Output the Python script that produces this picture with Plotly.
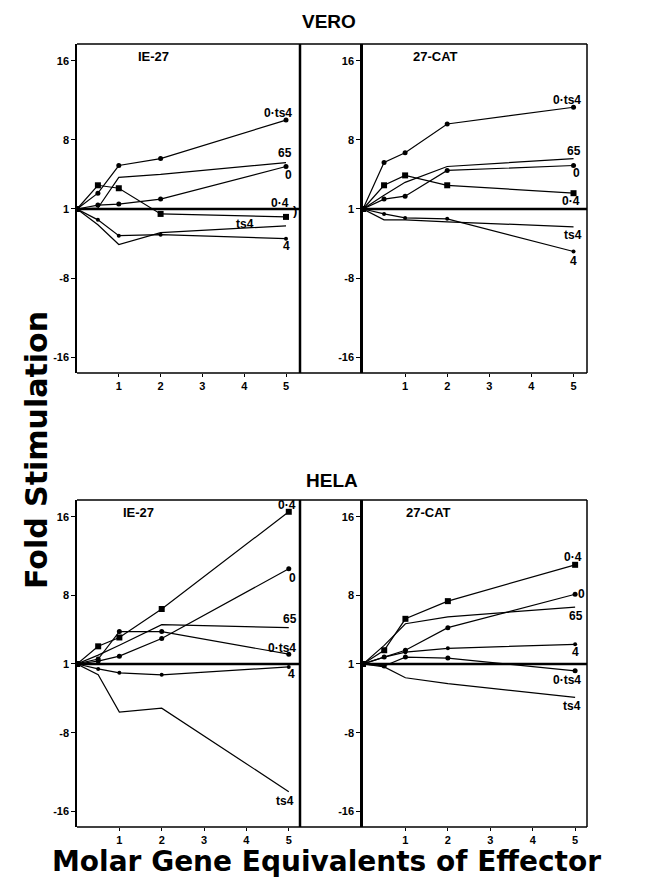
import plotly.graph_objects as go

# ---------------- data (fold stimulation values) ----------------
x_dose = [0, 0.5, 1, 2, 5]
series_names = ["0·ts4", "65", "0", "0·4", "ts4", "4"]

vero_ie27 = {
    "0·ts4": [1, 2.6, 5.4, 6.1, 10.0],
    "65":    [1, 1.1, 4.2, 4.5, 5.7],
    "0":     [1, 1.4, 1.5, 2.0, 5.3],
    "0·4":   [1, 3.4, 3.1, -1.5, -1.8],
    "ts4":   [1, -2.6, -4.6, -3.4, -2.7],
    "4":     [1, -2.1, -3.7, -3.6, -4.0],
}
vero_cat = {
    "0·ts4": [1, 5.7, 6.7, 9.6, 11.3],
    "65":    [1, 2.4, 3.7, 5.3, 6.1],
    "0":     [1, 2.0, 2.3, 4.9, 5.4],
    "0·4":   [1, 3.4, 4.4, 3.4, 2.6],
    "ts4":   [1, -2.1, -2.1, -2.3, -2.8],
    "4":     [1, -1.5, -1.9, -2.0, -5.3],
}
hela_ie27 = {
    "0·4":   [1, 2.8, 3.7, 6.6, 16.5],
    "0":     [1, 1.3, 1.8, 3.6, 10.7],
    "65":    [1, 1.9, 2.9, 5.0, 4.7],
    "0·ts4": [1, 1.5, 4.3, 4.3, 2.0],
    "4":     [1, -1.5, -1.9, -2.1, -1.3],
    "ts4":   [1, -2.1, -5.9, -5.5, -14.0],
}
hela_cat = {
    "0·4":   [1, 2.4, 5.6, 7.4, 11.1],
    "0":     [1, 1.7, 2.4, 4.7, 8.1],
    "65":    [1, 2.9, 5.1, 5.8, 6.8],
    "4":     [1, 1.7, 2.2, 2.6, 3.0],
    "0·ts4": [1, -1.2, 1.7, 1.6, -1.7],
    "ts4":   [1, -1.3, -2.4, -3.0, -4.4],
}

y_tick_folds = [16, 8, 1, -8, -16]
x_tick_vals = [1, 2, 3, 4, 5]

# label positions (x, fold) for the end-of-line labels
labels_vero_ie27 = [("0·ts4", 4.81, 10.7), ("65", 4.98, 6.7), ("0", 5.05, 4.4),
                    ("0·4", 4.86, 1.6), ("ts4", 4.02, -2.5), ("4", 5.0, -4.7)]
labels_vero_cat = [("0·ts4", 4.84, 12.0), ("65", 5.0, 6.9), ("0", 5.08, 4.6),
                   ("0·4", 4.94, 1.8), ("ts4", 4.99, -3.6), ("4", 4.99, -6.3)]
labels_hela_ie27 = [("0·4", 4.95, 17.2), ("0", 5.09, 9.8), ("65", 5.02, 5.55),
                    ("0·ts4", 4.83, 2.66), ("4", 5.07, -2.05), ("ts4", 4.9, -15.0)]
labels_hela_cat = [("0·4", 4.95, 11.9), ("0", 5.14, 8.15), ("65", 5.02, 5.9),
                   ("4", 5.0, 2.2), ("0·ts4", 4.8, -2.6), ("ts4", 4.92, -5.3)]


def to_axis(f):
    """Fold stimulation axis: 1 at centre, +n above, -n below."""
    return f - 1 if f >= 1 else f + 1


style = {
    "0·ts4": dict(mode="lines+markers", marker=dict(symbol="circle", size=5)),
    "65":    dict(mode="lines", marker=dict(size=1)),
    "0":     dict(mode="lines+markers", marker=dict(symbol="circle", size=5)),
    "0·4":   dict(mode="lines+markers", marker=dict(symbol="square", size=6)),
    "ts4":   dict(mode="lines", marker=dict(size=1)),
    "4":     dict(mode="lines+markers", marker=dict(symbol="circle", size=4)),
}

FONT = "Liberation Sans, Arial, Helvetica, sans-serif"
BIG = "DejaVu Sans, Liberation Sans, sans-serif"
W, H = 649, 879

fig = go.Figure()

panels = [
    ("x", "y", vero_ie27, labels_vero_ie27, "IE-27", 1.82),
    ("x2", "y2", vero_cat, labels_vero_cat, "27-CAT", 1.73),
    ("x3", "y3", hela_ie27, labels_hela_ie27, "IE-27", 1.46),
    ("x4", "y4", hela_cat, labels_hela_cat, "27-CAT", 1.55),
]

annotations = []
shapes = []
for xa, ya, data, labs, ptitle, tx in panels:
    for name in series_names:
        st = style[name]
        fig.add_trace(go.Scatter(
            x=x_dose, y=[to_axis(v) for v in data[name]],
            xaxis=xa, yaxis=ya, mode=st["mode"],
            line=dict(color="black", width=1.2),
            marker=dict(color="black", **st["marker"]),
            showlegend=False, hoverinfo="skip"))
    for text, lx, lf in labs:
        annotations.append(dict(x=lx, y=to_axis(lf), xref=xa, yref=ya, text="<b>" + text + "</b>",
                                showarrow=False, font=dict(family=FONT, size=12, color="black")))
    annotations.append(dict(x=tx, y=15.4, xref=xa, yref=ya, text="<b>" + ptitle + "</b>",
                            showarrow=False, font=dict(family=FONT, size=13, color="black")))
    # baseline at fold = 1
    shapes.append(dict(type="line", xref=xa + " domain", yref=ya, x0=0, x1=1, y0=0, y1=0,
                       line=dict(color="black", width=2.5)))

# bracket next to 0·4 in VERO IE-27
annotations.append(dict(x=5.22, y=-0.2, xref="x", yref="y", text="<b>)</b>", showarrow=False,
                        font=dict(family=FONT, size=13, color="black")))

# geometry (pixels -> paper)
def px_x(p):
    return p / W

def px_y(p):
    return 1 - p / H

left_dom = [px_x(77), px_x(300)]
right_dom = [px_x(363), px_x(587)]
top_dom = [px_y(373), px_y(44)]
bot_dom = [px_y(827), px_y(500)]
yrange = [-16.6, 16.7]

tick_font = dict(family=FONT, size=11, color="black")
yt = dict(range=yrange, tickvals=[to_axis(v) for v in y_tick_folds],
          ticktext=["<b>%d</b>" % v for v in y_tick_folds], ticks="outside", ticklen=4,
          tickwidth=1, tickcolor="black", showgrid=False, zeroline=False, tickfont=tick_font,
          showline=True, linecolor="black", fixedrange=True)
xt = dict(tickvals=x_tick_vals, ticktext=["<b>%d</b>" % v for v in x_tick_vals], ticks="outside",
          ticklen=3, tickwidth=1, tickcolor="black", showgrid=False, zeroline=False,
          tickfont=tick_font, showline=False, fixedrange=True)

fig.update_layout(
    width=W, height=H, margin=dict(l=0, r=0, t=0, b=0),
    paper_bgcolor="white", plot_bgcolor="white",
    xaxis=dict(domain=left_dom, range=[0, 5.335], anchor="y", **xt),
    yaxis=dict(domain=top_dom, anchor="x", linewidth=1.5, **yt),
    xaxis2=dict(domain=right_dom, range=[0, 5.32], anchor="y2", **xt),
    yaxis2=dict(domain=top_dom, anchor="x2", linewidth=2.5, **yt),
    xaxis3=dict(domain=left_dom, range=[0, 5.265], anchor="y3", **xt),
    yaxis3=dict(domain=bot_dom, anchor="x3", linewidth=1.5, **yt),
    xaxis4=dict(domain=right_dom, range=[0, 5.28], anchor="y4", **xt),
    yaxis4=dict(domain=bot_dom, anchor="x4", linewidth=2.5, **yt),
)

# frames: outer boxes, thick divider at right edge of left panels
for dom in (top_dom, bot_dom):
    shapes.append(dict(type="line", xref="paper", yref="paper", x0=px_x(77), x1=px_x(587),
                       y0=dom[1], y1=dom[1], line=dict(color="black", width=1.5)))
    shapes.append(dict(type="line", xref="paper", yref="paper", x0=px_x(77), x1=px_x(587),
                       y0=dom[0], y1=dom[0], line=dict(color="black", width=1.5)))
    shapes.append(dict(type="line", xref="paper", yref="paper", x0=px_x(300), x1=px_x(300),
                       y0=dom[0], y1=dom[1], line=dict(color="black", width=2.5)))
    shapes.append(dict(type="line", xref="paper", yref="paper", x0=px_x(587), x1=px_x(587),
                       y0=dom[0], y1=dom[1], line=dict(color="black", width=1.5)))

# titles
annotations += [
    dict(x=px_x(329), y=px_y(21), xref="paper", yref="paper", text="<b>VERO</b>", showarrow=False,
         xanchor="center", yanchor="middle", font=dict(family=FONT, size=19, color="black")),
    dict(x=px_x(332), y=px_y(480), xref="paper", yref="paper", text="<b>HELA</b>", showarrow=False,
         xanchor="center", yanchor="middle", font=dict(family=FONT, size=19, color="black")),
    dict(x=px_x(37), y=px_y(450), xref="paper", yref="paper", text="<b>Fold Stimulation</b>",
         showarrow=False, textangle=-90, xanchor="center", yanchor="middle",
         font=dict(family=BIG, size=30, color="black")),
    dict(x=px_x(326), y=0, xref="paper", yref="paper",
         text="<b>Molar Gene Equivalents of Effector</b>", showarrow=False,
         xanchor="center", yanchor="bottom", borderpad=0,
         font=dict(family=BIG, size=28, color="black")),
]

fig.update_layout(shapes=shapes, annotations=annotations)
fig.write_html("out.html")
